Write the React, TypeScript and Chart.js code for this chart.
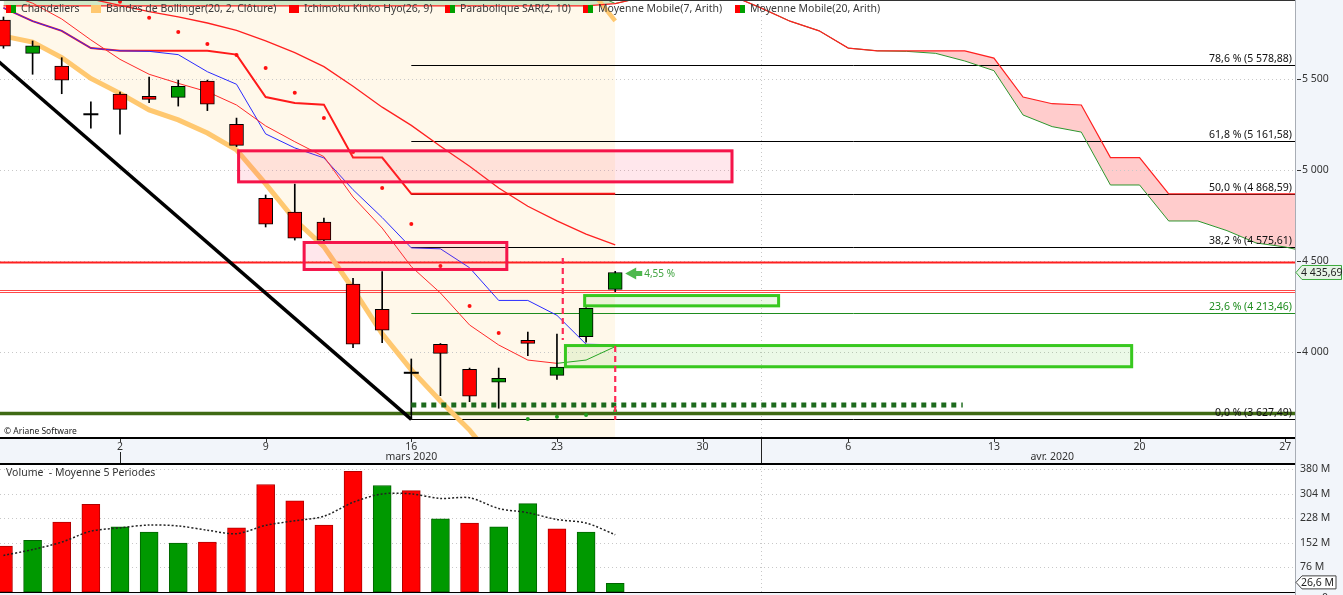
import React, { useEffect, useRef } from 'react';
import { Chart, registerables } from 'chart.js';

Chart.register(...registerables);

// ---------------- data ----------------
const CANDLE_IDX = [-4, -3, -2, -1, 0, 1, 2, 3, 4, 5, 6, 7, 8, 9, 10, 11, 12, 13, 14, 15, 16, 17];
const OPEN = [5824, 5641, 5571, 5306, 5417, 5405, 5399, 5489, 5251, 4844, 4768, 4713, 4372, 4233, 3884, 4041, 3903, 3832, 4063, 3870, 4082, 4343];
const HIGH = [5841, 5709, 5617, 5375, 5428, 5511, 5494, 5494, 5285, 4862, 4922, 4735, 4404, 4440, 3960, 4045, 3910, 3910, 4108, 4097, 4243, 4442];
const LOW = [5669, 5526, 5419, 5229, 5196, 5370, 5351, 5326, 5128, 4686, 4614, 4598, 4022, 4049, 3627.49, 3758, 3725, 3689, 3978, 3848, 4053, 4330];
const CLOSE = [5681, 5682, 5493, 5306, 5333, 5388, 5460, 5361, 5135, 4702, 4625, 4614, 4041, 4119, 3884, 3991, 3755, 3854, 4046, 3916, 4239, 4435.69];

const BB_HI = [6324, 6316, 6332, 6377, 6389, 6410, 6410, 6413, 6426, 6497, 6565, 6558, 6575, 6592, 6590, 6531, 6471, 6430, 6330, 6210, 6020, 5820];
const BB_LO = [5736, 5703, 5618, 5503, 5421, 5330, 5275, 5203, 5110, 4923, 4725, 4578, 4345, 4098, 3900, 3729, 3569, 3370, 3270, 3230, 3274, 3356];
const KIJUN = [5891, 5818, 5765, 5670, 5655, 5655, 5655, 5655, 5634, 5401, 5368, 5359, 5068, 5068, 4868.59, 4868.59, 4868.59, 4868.59, 4868.59, 4868.59, 4868.59, 4868.59];
const TENKAN = [5891, 5818, 5765, 5670, 5655, 5652, 5634, 5540, 5471, 5198, 5121, 5066, 4891, 4738, 4571, 4566, 4462, 4282, 4282, 4200, 4041, 4038];
const MM7 = [5975, 5917, 5830, 5715, 5608, 5526, 5476, 5430, 5357, 5242, 5155, 5073, 4851, 4680, 4468, 4323, 4147, 4037, 3954, 3936, 3954, 4028];
const MM20 = [6030, 6010, 5975, 5940, 5905, 5870, 5842, 5808, 5768, 5710, 5645, 5568, 5460, 5345, 5245, 5130, 5020, 4900, 4800, 4720, 4647, 4588];
const SAR = [null, null, null, null, 5925, 5837, 5758, 5692, 5632, 5560, 5425, 5285, 5098, 4900, 4702, 4471, 4251, 4103, 3630, 3642, 3652, 3674];

const CLOUD_IDX = [-4, -3, -2, -1, 0, 1, 2, 3, 4, 5, 6, 7, 8, 9, 10, 11, 12, 13, 14, 15, 16, 17, 18, 19, 20, 21, 22, 23, 24, 25, 26, 27, 28, 29, 30, 31, 32, 33, 34, 35, 36, 37, 38, 39, 40, 41];
const SENKOU_A = [5990, 5990, 5995, 6000, 6000, 6005, 6010, 6010, 6015, 6015, 6020, 6020, 6025, 6025, 6030, 6030, 6030, 6030, 6030, 6010, 5990, 5915, 5952, 5990, 5985, 5958, 5891, 5818, 5765, 5670, 5655, 5652, 5641, 5599, 5546, 5302, 5238, 5208, 4917, 4917, 4719, 4719, 4666, 4598, 4576, 4540];
const SENKOU_B = [5902, 5902, 5902, 5902, 5902, 5902, 5902, 5902, 5902, 5902, 5902, 5902, 5902, 5902, 5902, 5902, 5902, 5902, 5902, 5902, 5902, 5915, 5952, 5990, 5985, 5958, 5891, 5818, 5765, 5670, 5655, 5655, 5655, 5655, 5615, 5401, 5364, 5357, 5068, 5068, 4868.59, 4868.59, 4868.59, 4868.59, 4868.59, 4868.59];

const VOLUME_M = [141.6, 160, 216, 271, 201, 185, 151, 154, 198, 332, 282, 207, 373, 329, 313, 226, 213, 201, 273, 195, 185, 26.6];
const VOLUME_DIR = ['d', 'u', 'd', 'd', 'u', 'u', 'u', 'd', 'd', 'd', 'd', 'd', 'd', 'u', 'd', 'u', 'd', 'u', 'u', 'd', 'u', 'u'];
const VOLUME_MA5 = [113, 131, 154, 188, 198, 207, 204, 191, 180, 206, 220, 234, 277, 303, 303, 289, 291, 258, 245, 224, 213, 177];

const FIB_PCT = ['78,6', '61,8', '50,0', '38,2', '23,6', '0,0'];
const FIB_VALUES = [5578.88, 5161.58, 4868.59, 4575.61, 4213.46, 3627.49];
const FIB_START_IDX = 10;

const TREND_X = [-5, 10];
const TREND_Y = [5712, 3627.49];
const SUPPORT_LEVEL = 3660;
const RESIST_LEVEL = 4490;
const DOUBLE_LEVELS = [4340, 4328];
const DOTTED_LEVEL = [10, 28.93, 3707];
const RED_ZONES = [[4.02, 21.06, 5113, 4926], [6.27, 13.33, 4609, 4444]];
const GREEN_ZONES = [[15.9, 22.66, 4317, 4244], [15.24, 34.78, 4042, 3909]];
const DASH_MARKS = [[15.2, 4516, 4065], [17, 4031, 3624]];
const GAIN_LABEL = '4,55 %';

const Y_TICKS = [4000, 4500, 5000, 5500];
const VOL_TICKS = [76, 152, 228, 304, 380];
const X_TICK_IDX = [0, 5, 10, 15, 20, 25, 30, 35, 40];
const X_TICK_LABELS = ['2', '9', '16', '23', '30', '6', '13', '20', '27'];
const MONTH_LABEL_IDX = [10, 32];
const MONTH_LABELS = ['mars 2020', 'avr. 2020'];
const MONTH_START_IDX = [0, 22];
const GRID_V_IDX = [22];

const LEGEND = [
  { text: 'Chandeliers', colors: ['#FF0000', '#00A000'] },
  { text: 'Bandes de Bollinger(20, 2, Clôture)', colors: ['#FFC870'] },
  { text: 'Ichimoku Kinko Hyo(26, 9)', colors: ['#FF0000'] },
  { text: 'Parabolique SAR(2, 10)', colors: ['#FF0000', '#00A000'] },
  { text: 'Moyenne Mobile(7, Arith)', colors: ['#FF0000', '#00A000'] },
  { text: 'Moyenne Mobile(20, Arith)', colors: ['#FF0000', '#00A000'] },
];
const LEGEND_X = [6, 91, 289, 445, 583, 735];

// axis ranges
const X_MIN = -4.119;
const X_MAX = 40.37;
const P_MIN = 3530.8;
const P_MAX = 5934.5;
const V_MAX = 398.5;

// ---------------- styles ----------------
const FONT = "'Noto Sans', 'DejaVu Sans', sans-serif";
const PANEL_BG = '#F2F5FA';
const C_RED = '#FF0000';
const C_GREEN = '#009900';
const ORANGE = '#FFC870';
const CREAM = '#FFF8EA';

function fmt(v: number, dec: number) {
  const s = v.toFixed(dec);
  const [ip, dp] = s.split('.');
  const ipS = ip.replace(/\B(?=(\d{3})+(?!\d))/g, ' ');
  return dp ? ipS + ',' + dp : ipS;
}

const pts = (xs: number[], ys: (number | null)[]) => xs.map((x, i) => ({ x, y: ys[i] }));

function line(ctx: CanvasRenderingContext2D, x0: number, y0: number, x1: number, y1: number) {
  ctx.beginPath();
  ctx.moveTo(x0, y0);
  ctx.lineTo(x1, y1);
  ctx.stroke();
}

const pricePlugin = {
  id: 'priceDecor',
  beforeDraw(chart: any) {
    const { ctx, chartArea: a, width, height } = chart;
    ctx.save();
    ctx.fillStyle = PANEL_BG;
    ctx.fillRect(0, 0, width, height);
    ctx.fillStyle = '#FFFFFF';
    ctx.fillRect(a.left, a.top, a.right - a.left, a.bottom - a.top);
    ctx.restore();
  },
  beforeDatasetsDraw(chart: any) {
    const { ctx, chartArea: a } = chart;
    const X = chart.scales.x, Y = chart.scales.y;
    ctx.save();
    ctx.beginPath();
    ctx.rect(a.left, a.top, a.right - a.left, a.bottom - a.top);
    ctx.clip();
    ctx.strokeStyle = '#C8C8C8';
    ctx.lineWidth = 1;
    ctx.setLineDash([1, 3]);
    for (const t of Y_TICKS) {
      const y = Math.round(Y.getPixelForValue(t)) + 0.5;
      line(ctx, a.left, y, a.right, y);
    }
    for (const i of GRID_V_IDX) {
      const x = Math.round(X.getPixelForValue(i)) + 0.5;
      line(ctx, x, a.top, x, a.bottom);
    }
    ctx.setLineDash([]);
    // fib lines
    FIB_VALUES.forEach((v, k) => {
      const y = Math.round(Y.getPixelForValue(v)) + 0.5;
      ctx.strokeStyle = k === 4 ? '#1E8C1E' : '#000000';
      ctx.lineWidth = 1;
      line(ctx, X.getPixelForValue(FIB_START_IDX), y, a.right, y);
    });
    // levels
    ctx.strokeStyle = '#3F6A14';
    ctx.lineWidth = 3.5;
    line(ctx, a.left, Y.getPixelForValue(SUPPORT_LEVEL), a.right, Y.getPixelForValue(SUPPORT_LEVEL));
    ctx.strokeStyle = '#FF2020';
    ctx.lineWidth = 2;
    line(ctx, a.left, Y.getPixelForValue(RESIST_LEVEL), a.right, Y.getPixelForValue(RESIST_LEVEL));
    ctx.strokeStyle = '#FF4848';
    ctx.lineWidth = 1;
    for (const v of DOUBLE_LEVELS) {
      const y = Math.round(Y.getPixelForValue(v)) + 0.5;
      line(ctx, a.left, y, a.right, y);
    }
    ctx.restore();
  },
  afterDatasetsDraw(chart: any) {
    const { ctx, chartArea: a, width, height } = chart;
    const X = chart.scales.x, Y = chart.scales.y;
    ctx.save();
    ctx.beginPath();
    ctx.rect(a.left, a.top, a.right - a.left, a.bottom - a.top);
    ctx.clip();
    const zone = (z: number[], stroke: string, fill: string) => {
      const x0 = X.getPixelForValue(z[0]), x1 = X.getPixelForValue(z[1]);
      const y0 = Y.getPixelForValue(z[2]), y1 = Y.getPixelForValue(z[3]);
      ctx.fillStyle = fill;
      ctx.fillRect(x0, y0, x1 - x0, y1 - y0);
      ctx.strokeStyle = stroke;
      ctx.lineWidth = 3;
      ctx.strokeRect(x0 + 1.5, y0 + 1.5, x1 - x0 - 3, y1 - y0 - 3);
    };
    RED_ZONES.forEach(z => zone(z, '#F5144A', 'rgba(255,70,110,0.13)'));
    GREEN_ZONES.forEach(z => zone(z, '#38C81F', 'rgba(90,205,60,0.12)'));
    // dotted level
    ctx.strokeStyle = '#1D6A1D';
    ctx.lineWidth = 5;
    ctx.setLineDash([5, 5]);
    const dy = Y.getPixelForValue(DOTTED_LEVEL[2]);
    line(ctx, X.getPixelForValue(DOTTED_LEVEL[0]), dy, X.getPixelForValue(DOTTED_LEVEL[1]), dy);
    // dashed verticals
    ctx.strokeStyle = '#FF2A55';
    ctx.lineWidth = 2.2;
    ctx.setLineDash([6, 4]);
    for (const [i, p0, p1] of DASH_MARKS) {
      const x = X.getPixelForValue(i);
      line(ctx, x, Y.getPixelForValue(p0), x, Y.getPixelForValue(p1));
    }
    ctx.setLineDash([]);
    // arrow + gain
    const li = CANDLE_IDX.length - 1;
    const ay = Y.getPixelForValue(CLOSE[li]) + 1;
    const ax = X.getPixelForValue(CANDLE_IDX[li]) + 10;
    ctx.fillStyle = '#4DB84D';
    ctx.beginPath();
    ctx.moveTo(ax, ay);
    ctx.lineTo(ax + 11, ay - 6);
    ctx.lineTo(ax + 11, ay + 6);
    ctx.closePath();
    ctx.fill();
    ctx.fillRect(ax + 10, ay - 2.5, 7, 5);
    ctx.fillStyle = '#3FA33F';
    ctx.font = `10px ${FONT}`;
    ctx.textBaseline = 'middle';
    ctx.textAlign = 'left';
    ctx.fillText(GAIN_LABEL, ax + 19, ay + 1);
    // fib labels
    ctx.font = `10.5px ${FONT}`;
    ctx.textAlign = 'right';
    ctx.textBaseline = 'alphabetic';
    FIB_PCT.forEach((pct, k) => {
      ctx.fillStyle = k === 4 ? '#1E8C1E' : '#111111';
      ctx.fillText(`${pct} % (${fmt(FIB_VALUES[k], 2)})`, a.right - 4, Y.getPixelForValue(FIB_VALUES[k]) - 3);
    });
    ctx.restore();

    ctx.save();
    // top line
    ctx.fillStyle = '#333333';
    ctx.fillRect(a.left, 0, a.right - a.left, 1);
    // legend
    ctx.font = `10.5px ${FONT}`;
    ctx.textBaseline = 'middle';
    ctx.textAlign = 'left';
    LEGEND.forEach((it, k) => {
      const x = LEGEND_X[k];
      if (it.colors.length === 2) {
        ctx.fillStyle = it.colors[0];
        ctx.fillRect(x, 5, 5, 8);
        ctx.fillStyle = it.colors[1];
        ctx.fillRect(x + 5, 5, 5, 8);
      } else {
        ctx.fillStyle = it.colors[0];
        ctx.fillRect(x, 5, 10, 8);
      }
      ctx.fillStyle = '#3A3A3A';
      ctx.fillText(it.text, x + 15, 9.5);
    });
    // copyright
    ctx.font = `8.5px ${FONT}`;
    ctx.fillStyle = '#222222';
    ctx.fillText('© Ariane Software', 4, a.bottom - 5);
    // x band
    ctx.fillStyle = '#000000';
    ctx.fillRect(a.left, a.bottom, a.right - a.left, 2);
    ctx.font = `10.5px ${FONT}`;
    ctx.fillStyle = '#333333';
    ctx.textAlign = 'center';
    X_TICK_IDX.forEach((i, k) => {
      const x = X.getPixelForValue(i);
      ctx.fillText(X_TICK_LABELS[k], x, a.bottom + 10);
      ctx.fillRect(Math.round(x), a.bottom + 2, 1, 3);
    });
    MONTH_LABEL_IDX.forEach((i, k) => {
      ctx.fillText(MONTH_LABELS[k], X.getPixelForValue(i), a.bottom + 20.5);
    });
    ctx.fillStyle = '#222222';
    MONTH_START_IDX.forEach((i, k) => {
      const x = Math.round(X.getPixelForValue(i));
      const y0 = k === 0 ? a.bottom + 15 : a.bottom + 2;
      ctx.fillRect(x, y0, 1, height - y0);
    });
    // right axis
    ctx.textAlign = 'left';
    ctx.fillStyle = '#333333';
    for (const t of Y_TICKS) {
      const y = Y.getPixelForValue(t);
      ctx.fillRect(a.right + 1, Math.round(y), 4, 1);
      ctx.fillText(fmt(t, 0), a.right + 6, y);
    }
    // right border
    ctx.fillStyle = '#A8ADB5';
    ctx.fillRect(a.right - 1, 0, 1, height);
    // price tag
    const py = Y.getPixelForValue(CLOSE[CLOSE.length - 1]);
    ctx.beginPath();
    ctx.moveTo(a.right, py);
    ctx.lineTo(a.right + 6, py - 7);
    ctx.lineTo(width - 1.5, py - 7);
    ctx.lineTo(width - 1.5, py + 7);
    ctx.lineTo(a.right + 6, py + 7);
    ctx.closePath();
    ctx.fillStyle = '#E6F4E6';
    ctx.fill();
    ctx.strokeStyle = '#3DAA3D';
    ctx.lineWidth = 1;
    ctx.stroke();
    ctx.fillStyle = '#222222';
    ctx.fillText(fmt(CLOSE[CLOSE.length - 1], 2), a.right + 5, py + 0.5);
    ctx.restore();
  },
};

const volumePlugin = {
  id: 'volDecor',
  beforeDraw(chart: any) {
    const { ctx, chartArea: a, width, height } = chart;
    ctx.save();
    ctx.fillStyle = PANEL_BG;
    ctx.fillRect(0, 0, width, height);
    ctx.fillStyle = '#FFFFFF';
    ctx.fillRect(a.left, a.top, a.right - a.left, a.bottom - a.top);
    ctx.restore();
  },
  beforeDatasetsDraw(chart: any) {
    const { ctx, chartArea: a } = chart;
    const X = chart.scales.x, Y = chart.scales.y;
    ctx.save();
    ctx.strokeStyle = '#C8C8C8';
    ctx.lineWidth = 1;
    ctx.setLineDash([1, 3]);
    for (const t of VOL_TICKS) {
      const y = Math.round(Y.getPixelForValue(t)) + 0.5;
      line(ctx, a.left, y, a.right, y);
    }
    for (const i of GRID_V_IDX) {
      const x = Math.round(X.getPixelForValue(i)) + 0.5;
      line(ctx, x, a.top, x, a.bottom);
    }
    ctx.restore();
  },
  afterDatasetsDraw(chart: any) {
    const { ctx, chartArea: a, height } = chart;
    const Y = chart.scales.y;
    ctx.save();
    ctx.fillStyle = '#000000';
    ctx.fillRect(a.left, 0, a.right - a.left, 2);
    ctx.fillRect(a.left, Math.round(a.bottom), a.right - a.left, 1);
    ctx.font = `10.5px ${FONT}`;
    ctx.textBaseline = 'middle';
    ctx.textAlign = 'left';
    ctx.fillStyle = '#333333';
    ctx.fillText('Volume  - Moyenne 5 Periodes', 6, 10);
    for (const t of VOL_TICKS) {
      ctx.fillText(`${t} M`, a.right + 4, Y.getPixelForValue(t));
    }
    ctx.fillText('0', a.right + 26, a.bottom + 6);
    ctx.fillStyle = '#A8ADB5';
    ctx.fillRect(a.right - 1, 0, 1, height);
    // last volume tag
    const lv = VOLUME_M[VOLUME_M.length - 1];
    const y = Y.getPixelForValue(lv) - 1;
    ctx.beginPath();
    ctx.moveTo(a.right, y);
    ctx.lineTo(a.right + 6, y - 6.5);
    ctx.lineTo(a.right + 40, y - 6.5);
    ctx.lineTo(a.right + 40, y + 6.5);
    ctx.lineTo(a.right + 6, y + 6.5);
    ctx.closePath();
    ctx.fillStyle = '#FFFFFF';
    ctx.fill();
    ctx.strokeStyle = '#444444';
    ctx.lineWidth = 1;
    ctx.stroke();
    ctx.fillStyle = '#222222';
    ctx.fillText(`${fmt(lv, 1)} M`, a.right + 5, y + 0.5);
    ctx.restore();
  },
};

function priceConfig(): any {
  const isDoji = CANDLE_IDX.map((_, i) => OPEN[i] === CLOSE[i]);
  const bodyIdx = CANDLE_IDX.map((_, i) => i).filter(i => !isDoji[i]);
  const dojiIdx = CANDLE_IDX.map((_, i) => i).filter(i => isDoji[i]);
  const lineDs = (data: any, color: string, w: number, order: number, extra: any = {}) => ({
    type: 'line', data, borderColor: color, borderWidth: w, pointRadius: 0, fill: false, tension: 0, order, ...extra,
  });
  return {
    type: 'line',
    data: {
      datasets: [
        lineDs(pts(CANDLE_IDX, BB_HI), ORANGE, 4.5, 30, { fill: { target: 1, above: CREAM, below: CREAM } }),
        lineDs(pts(CANDLE_IDX, BB_LO), ORANGE, 5, 29),
        lineDs(pts(CLOUD_IDX, SENKOU_B), '#FF2020', 1.2, 27, { fill: { target: 3, above: '#FFCCCC', below: '#CFE8C6' } }),
        lineDs(pts(CLOUD_IDX, SENKOU_A), '#2E962E', 1, 28),
        lineDs(pts(TREND_X, TREND_Y), '#000000', 3.5, 26),
        lineDs(pts(CANDLE_IDX, MM20), '#FF2020', 1.3, 25),
        lineDs(pts(CANDLE_IDX, KIJUN), '#FF1A1A', 2, 24),
        lineDs(pts(CANDLE_IDX, TENKAN), '#2B2BFF', 1, 23),
        lineDs(pts(CANDLE_IDX, MM7), '#FF2A2A', 1, 22, {
          segment: { borderColor: (c: any) => (c.p1.parsed.y > c.p0.parsed.y ? '#22A022' : '#FF2A2A') },
        }),
        {
          type: 'line', data: pts(CANDLE_IDX, SAR), showLine: false, order: 5,
          pointRadius: 2, pointBorderWidth: 0,
          pointBackgroundColor: CANDLE_IDX.map((_, i) => (SAR[i] !== null && (SAR[i] as number) > CLOSE[i] ? '#FF1010' : '#22A022')),
        },
        {
          type: 'bar', grouped: false, order: 3, barThickness: 1, backgroundColor: '#000000', borderWidth: 0,
          data: CANDLE_IDX.map((x, i) => ({ x, y: [LOW[i], HIGH[i]] })),
        },
        {
          type: 'bar', grouped: false, order: 2, barThickness: 14, borderWidth: 1, borderColor: '#000000', borderSkipped: false,
          backgroundColor: bodyIdx.map(i => (CLOSE[i] > OPEN[i] ? C_GREEN : C_RED)),
          data: bodyIdx.map(i => ({ x: CANDLE_IDX[i], y: [OPEN[i], CLOSE[i]] })),
        },
        {
          type: 'line', showLine: false, order: 1, pointStyle: 'line', pointRadius: 7.5, pointBorderWidth: 2,
          pointBorderColor: '#000000', pointBackgroundColor: '#000000',
          data: dojiIdx.map(i => ({ x: CANDLE_IDX[i], y: CLOSE[i] })),
        },
      ],
    },
    options: {
      responsive: false,
      animation: false,
      devicePixelRatio: 1,
      events: [],
      layout: { autoPadding: false, padding: { left: 0, top: 0, right: 47, bottom: 26 } },
      plugins: {
        legend: { display: false },
        tooltip: { enabled: false },
        filler: { drawTime: 'beforeDatasetsDraw' },
      },
      scales: {
        x: { type: 'linear', min: X_MIN, max: X_MAX, display: false, offset: false },
        y: { type: 'linear', min: P_MIN, max: P_MAX, display: false },
      },
    },
    plugins: [pricePlugin],
  };
}

function volConfig(): any {
  return {
    type: 'bar',
    data: {
      datasets: [
        {
          type: 'line', order: 1, data: pts(CANDLE_IDX, VOLUME_MA5), borderColor: '#222222', borderWidth: 1.5,
          borderDash: [2, 2], pointRadius: 0, tension: 0.3, fill: false,
        },
        {
          type: 'bar', order: 2, grouped: false, barThickness: 18, borderWidth: 1, borderSkipped: false,
          backgroundColor: VOLUME_DIR.map(d => (d === 'u' ? C_GREEN : C_RED)),
          borderColor: VOLUME_DIR.map(d => (d === 'u' ? '#006400' : '#B00000')),
          data: pts(CANDLE_IDX, VOLUME_M),
        },
      ],
    },
    options: {
      responsive: false,
      animation: false,
      devicePixelRatio: 1,
      events: [],
      layout: { autoPadding: false, padding: { left: 0, top: 0, right: 47, bottom: 3 } },
      plugins: { legend: { display: false }, tooltip: { enabled: false } },
      scales: {
        x: { type: 'linear', min: X_MIN, max: X_MAX, display: false, offset: false },
        y: { type: 'linear', min: 0, max: V_MAX, display: false },
      },
    },
    plugins: [volumePlugin],
  };
}

export default function App() {
  const priceRef = useRef<HTMLCanvasElement>(null);
  const volRef = useRef<HTMLCanvasElement>(null);
  useEffect(() => {
    const pc = new Chart(priceRef.current as HTMLCanvasElement, priceConfig());
    const vc = new Chart(volRef.current as HTMLCanvasElement, volConfig());
    return () => {
      pc.destroy();
      vc.destroy();
    };
  }, []);
  return (
    <div style={{ position: 'fixed', left: 0, top: 0, width: 1343, height: 595, background: PANEL_BG, overflow: 'hidden' }}>
      <canvas ref={priceRef} width={1343} height={463} style={{ position: 'absolute', left: 0, top: 0, width: 1343, height: 463 }} />
      <canvas ref={volRef} width={1343} height={132} style={{ position: 'absolute', left: 0, top: 463, width: 1343, height: 132 }} />
    </div>
  );
}
